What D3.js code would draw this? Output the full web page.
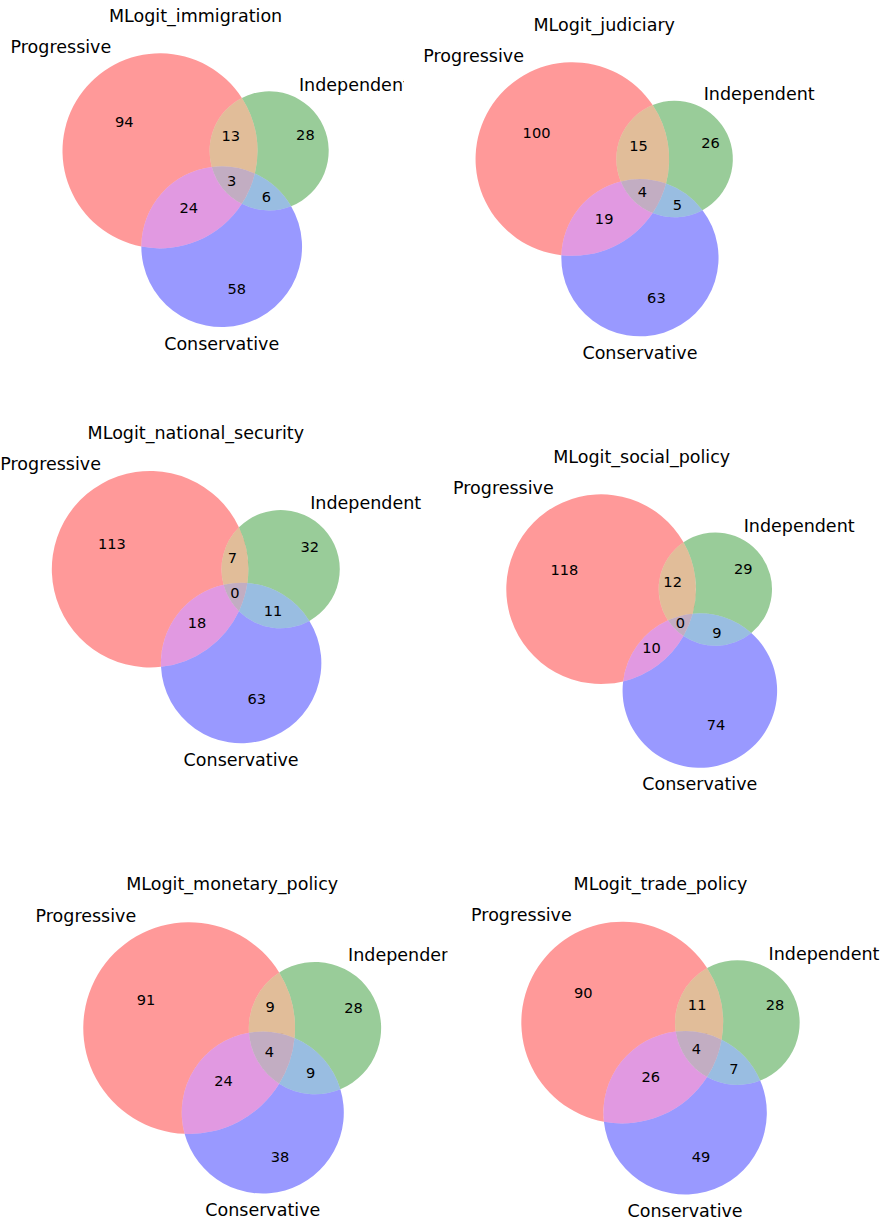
<!DOCTYPE html>
<html>
<head>
<meta charset="utf-8">
<script src="https://cdn.jsdelivr.net/npm/d3@7"></script>
<style>
  body { margin: 0; background: #fff; }
  svg { display: block; }
  text { font-family: "DejaVu Sans", sans-serif; fill: #000; }
</style>
</head>
<body>
<svg id="chart" width="883" height="1224"></svg>
<script>
// Subset counts per topic, ordered Abc, aBc, ABc, abC, AbC, aBC, ABC
// (A = Progressive, B = Independent, C = Conservative)
const immigration      = [94, 28, 13, 58, 24, 6, 3];
const judiciary        = [100, 26, 15, 63, 19, 5, 4];
const nationalSecurity = [113, 32, 7, 63, 18, 11, 0];
const socialPolicy     = [118, 29, 12, 74, 10, 9, 0];
const monetaryPolicy   = [91, 28, 9, 38, 24, 9, 4];
const tradePolicy      = [90, 28, 11, 49, 26, 7, 4];

const panelTitles = [
  "MLogit_immigration", "MLogit_judiciary",
  "MLogit_national_security", "MLogit_social_policy",
  "MLogit_monetary_policy", "MLogit_trade_policy"
];
const setLabels = ["Progressive", "Independent", "Conservative"];
const panelSubsets = [immigration, judiciary, nationalSecurity, socialPolicy, monetaryPolicy, tradePolicy];

// ---- page layout: one axes box per panel ----
const AXES_H = 318.6, AXES_W = 380;
const frames = [
  { cx: 195.6, top: 30.9,  clipRight: 404 },
  { cx: 604.2, top: 40.0,  clipRight: 883 },
  { cx: 195.8, top: 447.8, clipRight: 883 },
  { cx: 641.7, top: 471.8, clipRight: 883 },
  { cx: 232.2, top: 898.6, clipRight: 447.5 },
  { cx: 660.5, top: 898.8, clipRight: 883 }
];
const FS_LABEL = 17.5, FS_NUM = 14.6, TITLE_PAD = 8.75;

// base set colours (r, g, b) and alpha, mixed per region
const baseColors = [[1, 0, 0], [0, 0.5, 0], [0, 0, 1]];
const ALPHA = 0.4;

// ---- area-proportional three-circle layout ----
function intersectionArea(r1, r2, d) {
  const R = Math.max(r1, r2), r = Math.min(r1, r2);
  if (d >= R + r) return 0;
  if (d <= R - r) return Math.PI * r * r;
  const x = (d * d + r * r - R * R) / (2 * d * r);
  const y = (d * d + R * R - r * r) / (2 * d * R);
  return r * r * Math.acos(x) + R * R * Math.acos(y)
    - 0.5 * Math.sqrt((-d + r + R) * (d + r - R) * (d - r + R) * (d + r + R));
}
function distanceForArea(r1, r2, a) {
  if (a < 1e-10) return r1 + r2;
  let lo = Math.abs(r1 - r2), hi = r1 + r2;
  for (let k = 0; k < 200; k++) {
    const mid = (lo + hi) / 2;
    if (intersectionArea(r1, r2, mid) > a) lo = mid; else hi = mid;
  }
  return (lo + hi) / 2;
}
function solveVenn3(s) {
  const total = d3.sum(s);
  const n = s.map(v => v / total);
  const A = n[0] + n[2] + n[4] + n[6];
  const B = n[1] + n[2] + n[5] + n[6];
  const C = n[3] + n[4] + n[5] + n[6];
  const AB = n[2] + n[6], BC = n[5] + n[6], AC = n[4] + n[6];
  const radii = [A, B, C].map(v => Math.sqrt(v / Math.PI));
  const dAB = distanceForArea(radii[0], radii[1], AB);
  const dBC = distanceForArea(radii[1], radii[2], BC);
  const dAC = distanceForArea(radii[0], radii[2], AC);
  const cx = (dAC * dAC - dBC * dBC + dAB * dAB) / (2 * dAB);
  const cy = dAC * dAC < cx * cx ? 0 : -Math.sqrt(dAC * dAC - cx * cx);
  let centers = [[0, 0], [dAB, 0], [cx, cy]];
  const w = radii.map(r => r * r), W = d3.sum(w);
  const mx = d3.sum(centers, (c, i) => c[0] * w[i]) / W;
  const my = d3.sum(centers, (c, i) => c[1] * w[i]) / W;
  centers = centers.map(c => [c[0] - mx, c[1] - my]);
  return { centers, radii };
}

function circleIntersections(c1, r1, c2, r2) {
  const dx = c2[0] - c1[0], dy = c2[1] - c1[1];
  const d = Math.hypot(dx, dy);
  if (d >= r1 + r2 || d <= Math.abs(r1 - r2) || d === 0) return [];
  const a = (d * d + r1 * r1 - r2 * r2) / (2 * d);
  const h = Math.sqrt(Math.max(0, r1 * r1 - a * a));
  const ux = dx / d, uy = dy / d;
  const px = c1[0] + a * ux, py = c1[1] + a * uy;
  return [[px - h * uy, py + h * ux], [px + h * uy, py - h * ux]];
}

// Split every circle at its intersection points; each piece bounds two regions
// (positive side inside the circle, negative side outside it).
function venn3Regions(centers, radii) {
  const regions = d3.range(8).map(() => ({ arcs: [] }));
  for (let i = 0; i < 3; i++) {
    const [xi, yi] = centers[i], ri = radii[i];
    const angles = [];
    for (let j = 0; j < 3; j++) {
      if (j === i) continue;
      circleIntersections(centers[i], ri, centers[j], radii[j])
        .forEach(p => angles.push(Math.atan2(p[1] - yi, p[0] - xi)));
    }
    angles.sort((a, b) => a - b);
    const pieces = angles.length
      ? angles.map((a0, k) => [a0, k + 1 < angles.length ? angles[k + 1] : angles[0] + 2 * Math.PI])
      : [[0, 2 * Math.PI]];
    pieces.forEach(([a0, a1]) => {
      const am = (a0 + a1) / 2;
      const mid = [xi + ri * Math.cos(am), yi + ri * Math.sin(am)];
      let inside = 0;
      for (let j = 0; j < 3; j++) {
        if (j === i) continue;
        if (Math.hypot(mid[0] - centers[j][0], mid[1] - centers[j][1]) < radii[j]) inside |= (1 << j);
      }
      const arc = { circle: i, a0, a1, mid, span: a1 - a0 };
      regions[inside | (1 << i)].arcs.push({ ...arc, positive: true });
      if (inside) regions[inside].arcs.push({ ...arc, positive: false });
    });
  }
  // label sits at the span-weighted mean of the boundary arc midpoints
  regions.forEach(reg => {
    if (!reg.arcs.length) return;
    const wsum = d3.sum(reg.arcs, a => a.span);
    reg.label = [
      d3.sum(reg.arcs, a => a.mid[0] * a.span) / wsum,
      d3.sum(reg.arcs, a => a.mid[1] * a.span) / wsum
    ];
  });
  return regions;
}

function arcEnds(arc, centers, radii) {
  const c = centers[arc.circle], r = radii[arc.circle];
  const p = t => [c[0] + r * Math.cos(t), c[1] + r * Math.sin(t)];
  return arc.positive ? [p(arc.a0), p(arc.a1)] : [p(arc.a1), p(arc.a0)];
}

function regionColor(mask) {
  const members = [0, 1, 2].filter(i => mask & (1 << i));
  const sum = [0, 1, 2].map(ch => d3.sum(members, m => baseColors[m][ch]));
  const f = members.length === 1 ? 1 : members.length === 2 ? 0.7 : 0.4;
  const c = sum.map(v => Math.round(255 * Math.min(1, v * f)));
  return d3.rgb(c[0], c[1], c[2]).formatHex();
}

const svg = d3.select("#chart");
svg.append("rect").attr("width", 883).attr("height", 1224).attr("fill", "#fff");
const defs = svg.append("defs");

panelSubsets.forEach((subsets, p) => {
  const f = frames[p];
  const { centers, radii } = solveVenn3(subsets);

  const xmin = d3.min(centers, (c, i) => c[0] - radii[i]) - 0.1;
  const xmax = d3.max(centers, (c, i) => c[0] + radii[i]) + 0.1;
  const ymin = d3.min(centers, (c, i) => c[1] - radii[i]) - 0.1;
  const ymax = d3.max(centers, (c, i) => c[1] + radii[i]) + 0.1;
  const k = Math.min(AXES_W / (xmax - xmin), AXES_H / (ymax - ymin));
  const midY = f.top + AXES_H / 2;
  const x = d3.scaleLinear().domain([xmin, xmax])
    .range([f.cx - k * (xmax - xmin) / 2, f.cx + k * (xmax - xmin) / 2]);
  const y = d3.scaleLinear().domain([ymin, ymax])
    .range([midY + k * (ymax - ymin) / 2, midY - k * (ymax - ymin) / 2]);

  defs.append("clipPath").attr("id", "panel-clip-" + p)
    .append("rect").attr("x", 0).attr("y", 0)
    .attr("width", f.clipRight).attr("height", 1224);

  const g = svg.append("g").attr("clip-path", `url(#panel-clip-${p})`);

  const regions = venn3Regions(centers, radii);

  // region patches, in Abc, aBc, ABc, abC, AbC, aBC, ABC order
  for (let m = 1; m <= 7; m++) {
    const reg = regions[m];
    if (!reg.arcs.length) continue;
    const remaining = reg.arcs.slice();
    const path = d3.path();
    let current = remaining.shift();
    const start = arcEnds(current, centers, radii)[0];
    while (current) {
      const c = centers[current.circle];
      const cxp = x(c[0]), cyp = y(c[1]), rp = k * radii[current.circle];
      if (current.positive) path.arc(cxp, cyp, rp, -current.a0, -current.a1, true);
      else path.arc(cxp, cyp, rp, -current.a1, -current.a0, false);
      const end = arcEnds(current, centers, radii)[1];
      if (!remaining.length) break;
      let best = 0, bestD = Infinity;
      remaining.forEach((a, idx) => {
        const s = arcEnds(a, centers, radii)[0];
        const d = Math.hypot(s[0] - end[0], s[1] - end[1]);
        if (d < bestD) { bestD = d; best = idx; }
      });
      const dStart = Math.hypot(start[0] - end[0], start[1] - end[1]);
      if (dStart < 1e-9 && bestD > 1e-9) break;
      current = remaining.splice(best, 1)[0];
    }
    path.closePath();
    g.append("path").attr("d", path.toString())
      .attr("fill", regionColor(m)).attr("fill-opacity", ALPHA).attr("stroke", "none");
  }

  // subset counts
  for (let m = 1; m <= 7; m++) {
    const reg = regions[m];
    if (!reg.label) continue;
    g.append("text")
      .attr("x", x(reg.label[0]))
      .attr("y", y(reg.label[1]) + 0.276 * FS_NUM)
      .attr("text-anchor", "middle")
      .attr("font-size", FS_NUM)
      .text(subsets[m - 1]);
  }

  // set labels
  const [ca, cb, cc] = centers, [ra, rb, rc] = radii;
  g.append("text")
    .attr("x", x(ca[0] - ra / 2)).attr("y", y(ca[1] + ra) - 0.7)
    .attr("text-anchor", "end").attr("font-size", FS_LABEL)
    .text(setLabels[0]);
  g.append("text")
    .attr("x", x(cb[0] + rb / 2)).attr("y", y(cb[1] + rb) - 0.7)
    .attr("text-anchor", "start").attr("font-size", FS_LABEL)
    .text(setLabels[1]);
  g.append("text")
    .attr("x", x(cc[0])).attr("y", y(cc[1] - 1.1 * rc) + 14.8)
    .attr("text-anchor", "middle").attr("font-size", FS_LABEL)
    .text(setLabels[2]);

  // panel title
  g.append("text")
    .attr("x", f.cx).attr("y", f.top - TITLE_PAD)
    .attr("text-anchor", "middle").attr("font-size", FS_LABEL)
    .text(panelTitles[p]);
});
</script>
</body>
</html>
